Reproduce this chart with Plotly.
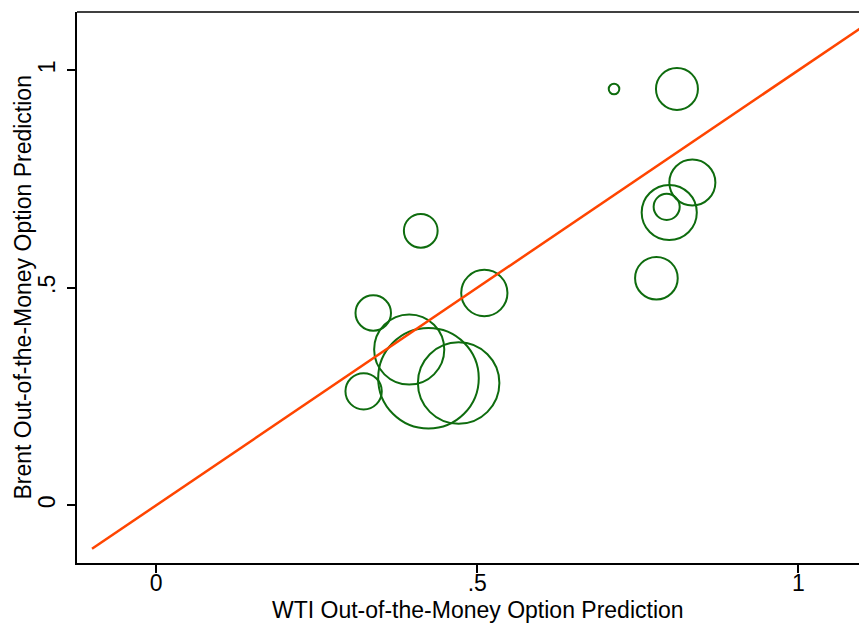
import plotly.graph_objects as go

# WTI vs Brent out-of-the-money option predictions, bubble area = weight
wti = [0.713, 0.811, 0.835, 0.795, 0.799, 0.779, 0.412, 0.511, 0.338, 0.394, 0.323, 0.424, 0.471]
brent = [0.957, 0.957, 0.742, 0.686, 0.673, 0.522, 0.631, 0.488, 0.442, 0.358, 0.262, 0.292, 0.281]
weight = [28, 440, 530, 170, 760, 455, 285, 535, 315, 1230, 330, 2530, 1660]

# 45-degree reference line
line_x = [-0.1, 1.1]
line_y = [-0.1, 1.1]

x_ticks = [0, 0.5, 1]
x_labels = ["0", ".5", "1"]
y_ticks = [0, 0.5, 1]
y_labels = ["0", ".5", "1"]

x_title = "WTI Out-of-the-Money Option Prediction"
y_title = "Brent Out-of-the-Money Option Prediction"

green = "rgb(14,108,14)"
orange = "rgb(255,69,0)"
font_family = "Liberation Sans, Arial, Helvetica, sans-serif"
fs = 23

fig = go.Figure()
fig.add_trace(go.Scatter(
    x=wti, y=brent, mode="markers",
    marker=dict(symbol="circle-open", size=weight, sizemode="area", sizeref=0.5,
                color=green, opacity=1, line=dict(width=2, color=green)),
    showlegend=False, hoverinfo="x+y",
))
fig.add_trace(go.Scatter(
    x=line_x, y=line_y, mode="lines",
    line=dict(color=orange, width=2.5), showlegend=False,
))

# the page body adds an 8px margin, so the figure is sized to fit inside it
fig.update_layout(
    width=859, height=616,
    margin=dict(l=69, r=0, t=4, b=61, autoexpand=False),
    paper_bgcolor="white", plot_bgcolor="white",
    font=dict(family=font_family, size=fs, color="black"),
)
fig.update_xaxes(
    range=[-0.1234, 1.107], tickvals=x_ticks, ticktext=x_labels, automargin=False,
    showgrid=False, zeroline=False, showline=True, linecolor="black", linewidth=1.5,
    ticks="outside", ticklen=8, tickwidth=1.5, tickcolor="black",
    tickfont=dict(size=fs), ticklabelstandoff=-9,
)
fig.update_yaxes(
    range=[-0.1327, 1.134], tickvals=y_ticks, ticktext=y_labels, automargin=False,
    showgrid=False, zeroline=False, showline=True, linecolor="black", linewidth=1.5,
    ticks="outside", ticklen=8, tickwidth=1.5, tickcolor="black", tickangle=-90,
    tickfont=dict(size=fs), ticklabelstandoff=3,
)
# axis titles
fig.add_annotation(text=x_title, xref="paper", yref="paper", x=0.5076, y=0,
                   yshift=-47, yanchor="middle", showarrow=False, font=dict(size=fs))
fig.add_annotation(text=y_title, xref="paper", yref="paper", x=0, y=0.5,
                   xshift=-55, xanchor="center", textangle=-90, showarrow=False,
                   font=dict(size=fs))
# top border of the plot region
fig.add_shape(type="line", xref="paper", yref="paper", x0=0, x1=1, y0=1, y1=1,
              line=dict(color="black", width=1.5))

fig.write_html("out.html")
